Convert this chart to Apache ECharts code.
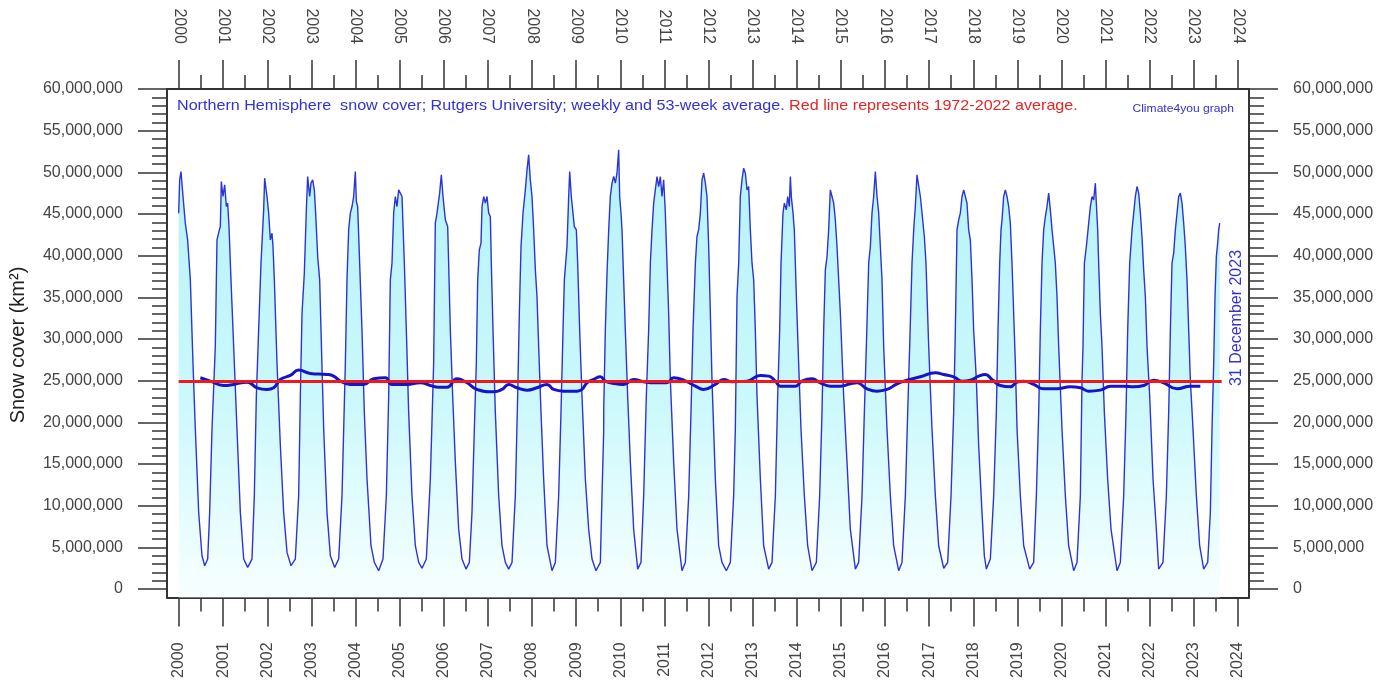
<!DOCTYPE html>
<html>
<head>
<meta charset="utf-8">
<script src="https://cdn.jsdelivr.net/npm/echarts@6/dist/echarts.min.js"></script>
<style>
html,body{margin:0;padding:0;background:#fff;}
#chart{width:1392px;height:681px;}
</style>
</head>
<body>
<div id="chart"></div>
<script>
// Year tick labels (top and bottom axes)
const yearTicks = [2000,2001,2002,2003,2004,2005,2006,2007,2008,2009,2010,2011,2012,2013,2014,2015,2016,2017,2018,2019,2020,2021,2022,2023,2024];
const halfYearTicks = [2000.5,2001.5,2002.5,2003.5,2004.5,2005.5,2006.5,2007.5,2008.5,2009.5,2010.5,2011.5,2012.5,2013.5,2014.5,2015.5,2016.5,2017.5,2018.5,2019.5,2020.5,2021.5,2022.5,2023.5];
// Y ticks in million km²
const yMajorTicks = [0,5,10,15,20,25,30,35,40,45,50,55,60];
const yMinorTicks = [1,2,3,4,6,7,8,9,11,12,13,14,16,17,18,19,21,22,23,24,26,27,28,29,31,32,33,34,36,37,38,39,41,42,43,44,46,47,48,49,51,52,53,54,56,57,58,59];

// Weekly Northern Hemisphere snow cover [decimal year, million km²]
const weeklySnow = [
[1999.992,45.1],[2000.015,49.1],[2000.045,50.1],[2000.091,47.1],[2000.143,43.9],[2000.196,41.9],[2000.257,37.1],[2000.317,27.1],[2000.370,19.2],[2000.446,9.2],[2000.521,4.0],[2000.582,2.8],
[2000.650,3.6],[2000.695,9.2],[2000.748,19.2],[2000.823,29.1],[2000.861,41.9],[2000.914,43.1],[2000.937,43.5],[2000.959,48.9],[2000.997,47.1],[2001.035,48.5],[2001.073,45.9],[2001.103,46.3],[2001.133,43.5],[2001.178,37.1],[2001.239,29.1],[2001.314,19.2],[2001.390,9.2],[2001.466,3.6],[2001.556,2.6],
[2001.654,3.6],[2001.707,11.2],[2001.753,23.2],[2001.805,31.1],[2001.858,39.1],[2001.919,45.5],[2001.941,49.3],[2001.972,49.1],[2001.994,47.1],[2002.032,45.1],[2002.070,41.9],[2002.108,42.7],[2002.130,41.1],[2002.161,37.1],[2002.221,27.1],[2002.297,17.2],[2002.372,9.2],[2002.448,4.4],[2002.538,2.8],
[2002.636,3.6],[2002.712,11.2],[2002.750,23.2],[2002.788,33.1],[2002.840,37.9],[2002.886,45.5],[2002.916,49.5],[2002.961,47.1],[2002.992,48.7],[2003.029,49.1],[2003.067,47.9],[2003.097,45.1],[2003.143,39.9],[2003.188,37.1],[2003.218,31.1],[2003.279,19.2],[2003.354,9.2],[2003.430,4.0],[2003.528,2.6],
[2003.619,3.6],[2003.694,11.2],[2003.770,27.1],[2003.807,37.1],[2003.845,43.1],[2003.883,45.1],[2003.921,45.9],[2003.958,47.1],[2003.996,50.1],[2004.019,46.5],[2004.049,45.9],[2004.094,39.1],[2004.147,31.1],[2004.200,21.2],[2004.261,13.2],[2004.351,5.2],[2004.427,3.2],[2004.525,2.2],
[2004.623,3.6],[2004.699,11.2],[2004.752,23.2],[2004.789,37.1],[2004.827,39.1],[2004.865,45.1],[2004.903,47.1],[2004.941,45.9],[2004.978,47.9],[2005.016,47.9],[2005.054,47.1],[2005.107,39.1],[2005.152,31.1],[2005.205,21.2],[2005.280,11.2],[2005.356,5.2],[2005.432,3.2],[2005.507,2.5],
[2005.605,3.6],[2005.696,13.2],[2005.771,27.1],[2005.809,43.9],[2005.847,45.1],[2005.907,47.5],[2005.945,49.7],[2005.983,47.1],[2006.036,44.3],[2006.089,43.5],[2006.111,39.1],[2006.149,31.1],[2006.202,23.2],[2006.263,15.2],[2006.338,7.2],[2006.414,3.6],[2006.504,2.4],
[2006.580,3.2],[2006.640,9.2],[2006.693,19.2],[2006.738,27.1],[2006.769,37.1],[2006.806,40.7],[2006.844,41.5],[2006.867,45.9],[2006.905,47.1],[2006.942,46.3],[2006.980,47.1],[2007.018,45.1],[2007.056,44.7],[2007.078,39.1],[2007.116,31.1],[2007.169,21.2],[2007.245,11.2],[2007.320,5.2],[2007.396,3.2],[2007.471,2.4],
[2007.547,3.2],[2007.622,11.2],[2007.675,23.2],[2007.713,33.1],[2007.751,41.1],[2007.796,45.1],[2007.849,47.9],[2007.887,50.3],[2007.924,52.1],[2007.962,49.1],[2008.000,47.1],[2008.038,43.1],[2008.076,38.3],[2008.113,35.1],[2008.151,29.1],[2008.204,21.2],[2008.264,13.2],[2008.340,5.2],[2008.453,2.2],
[2008.529,3.2],[2008.604,11.2],[2008.657,21.2],[2008.703,31.1],[2008.733,37.1],[2008.793,41.1],[2008.831,47.1],[2008.854,50.1],[2008.891,47.1],[2008.929,45.1],[2008.959,43.5],[2009.005,43.1],[2009.035,39.1],[2009.080,31.1],[2009.133,23.2],[2009.209,13.2],[2009.284,7.2],[2009.360,3.6],[2009.450,2.2],
[2009.549,3.2],[2009.586,11.2],[2009.624,18.8],[2009.627,22.0],[2009.662,31.1],[2009.700,37.9],[2009.738,43.1],[2009.775,47.1],[2009.813,48.7],[2009.851,49.5],[2009.889,48.7],[2009.926,49.9],[2009.964,52.7],[2009.987,47.1],[2010.017,45.1],[2010.040,43.1],[2010.077,37.1],[2010.115,31.1],[2010.168,23.2],[2010.229,15.2],[2010.304,7.2],[2010.395,2.4],
[2010.470,3.2],[2010.531,11.2],[2010.591,23.2],[2010.644,31.1],[2010.682,39.1],[2010.720,43.1],[2010.757,46.3],[2010.795,47.9],[2010.833,49.5],[2010.871,48.3],[2010.908,49.5],[2010.946,47.1],[2010.984,49.1],[2011.022,45.1],[2011.059,39.1],[2011.097,33.1],[2011.135,25.1],[2011.211,15.2],[2011.286,7.2],[2011.399,2.2],
[2011.475,3.2],[2011.551,11.2],[2011.603,21.2],[2011.649,31.1],[2011.702,39.1],[2011.739,42.3],[2011.777,43.1],[2011.815,45.1],[2011.853,49.1],[2011.890,49.9],[2011.928,48.7],[2011.966,47.1],[2012.004,41.1],[2012.042,33.1],[2012.079,25.1],[2012.155,13.2],[2012.230,5.2],[2012.306,3.2],[2012.404,2.2],
[2012.495,3.2],[2012.570,11.2],[2012.608,19.2],[2012.646,35.1],[2012.684,39.1],[2012.721,47.1],[2012.759,49.1],[2012.797,50.5],[2012.835,49.9],[2012.873,47.9],[2012.910,48.3],[2012.948,43.1],[2012.986,39.1],[2013.024,37.1],[2013.061,31.1],[2013.099,23.2],[2013.175,13.2],[2013.250,5.2],[2013.364,2.4],
[2013.439,3.2],[2013.515,11.2],[2013.568,23.2],[2013.613,31.1],[2013.643,39.1],[2013.688,45.1],[2013.719,46.3],[2013.764,45.5],[2013.794,47.1],[2013.832,45.9],[2013.855,49.5],[2013.877,47.1],[2013.915,45.1],[2013.945,43.1],[2013.991,35.1],[2014.043,27.1],[2014.096,19.2],[2014.172,11.2],[2014.247,5.2],[2014.346,2.2],
[2014.444,3.2],[2014.519,11.2],[2014.572,21.2],[2014.610,31.1],[2014.648,38.3],[2014.686,39.9],[2014.723,43.1],[2014.761,47.9],[2014.799,47.1],[2014.837,46.3],[2014.874,44.3],[2014.912,41.1],[2014.950,37.1],[2014.988,33.1],[2015.063,23.2],[2015.139,15.2],[2015.214,7.2],[2015.328,2.4],
[2015.403,3.2],[2015.479,11.2],[2015.532,21.2],[2015.577,29.1],[2015.630,39.1],[2015.668,41.1],[2015.705,45.1],[2015.743,47.1],[2015.781,50.1],[2015.819,47.1],[2015.857,45.1],[2015.894,41.1],[2015.932,37.1],[2015.970,29.1],[2016.045,19.2],[2016.121,11.2],[2016.196,5.2],[2016.310,2.2],
[2016.385,3.2],[2016.461,11.2],[2016.514,21.2],[2016.559,29.1],[2016.612,39.1],[2016.650,43.1],[2016.687,45.9],[2016.725,49.7],[2016.763,49.7],[2016.801,47.1],[2016.839,45.1],[2016.891,42.3],[2016.929,39.1],[2016.990,29.1],[2017.065,19.2],[2017.141,11.2],[2017.216,5.2],[2017.330,2.5],
[2017.420,3.2],[2017.496,11.2],[2017.556,21.2],[2017.594,31.1],[2017.632,43.1],[2017.670,44.3],[2017.707,45.1],[2017.745,47.1],[2017.783,47.9],[2017.821,47.1],[2017.858,46.3],[2017.896,43.1],[2017.934,41.9],[2017.972,37.1],[2018.009,31.1],[2018.070,25.1],[2018.123,17.2],[2018.198,9.2],[2018.251,4.0],[2018.297,2.4],
[2018.387,3.6],[2018.463,11.2],[2018.523,21.2],[2018.561,31.1],[2018.599,39.1],[2018.629,43.1],[2018.652,44.3],[2018.689,47.1],[2018.727,47.9],[2018.765,47.1],[2018.803,45.9],[2018.840,43.9],[2018.878,39.1],[2018.916,33.1],[2018.954,27.1],[2018.992,19.2],[2019.067,11.2],[2019.143,5.2],[2019.279,2.4],
[2019.369,3.2],[2019.430,11.2],[2019.483,21.2],[2019.520,31.1],[2019.558,39.1],[2019.596,43.1],[2019.634,44.7],[2019.671,45.9],[2019.709,47.5],[2019.747,45.5],[2019.785,43.1],[2019.823,41.1],[2019.860,39.1],[2019.898,35.1],[2019.936,29.1],[2020.011,19.2],[2020.087,11.2],[2020.162,5.2],[2020.276,2.2],
[2020.351,3.2],[2020.427,11.2],[2020.465,25.1],[2020.487,29.1],[2020.518,39.1],[2020.563,41.1],[2020.616,43.9],[2020.654,45.9],[2020.691,47.1],[2020.729,46.7],[2020.767,48.7],[2020.789,46.3],[2020.820,43.1],[2020.842,39.1],[2020.880,33.1],[2020.918,29.1],[2020.971,21.2],[2021.046,13.2],[2021.122,7.2],[2021.258,2.2],
[2021.333,3.2],[2021.409,11.2],[2021.462,21.2],[2021.500,31.1],[2021.545,39.1],[2021.598,43.1],[2021.636,45.1],[2021.673,47.1],[2021.711,48.3],[2021.749,47.5],[2021.787,45.1],[2021.824,42.3],[2021.862,38.3],[2021.900,35.1],[2021.938,29.1],[2021.998,23.2],[2022.074,13.2],[2022.149,7.2],[2022.202,2.4],
[2022.300,3.2],[2022.376,11.2],[2022.429,21.2],[2022.467,31.1],[2022.504,39.1],[2022.542,40.3],[2022.580,43.1],[2022.618,45.1],[2022.655,47.1],[2022.693,47.5],[2022.731,46.3],[2022.769,43.9],[2022.806,41.1],[2022.844,37.1],[2022.882,31.1],[2022.920,25.1],[2022.980,19.2],[2023.056,11.2],[2023.131,5.2],[2023.222,2.4],
[2023.313,3.2],[2023.373,9.2],[2023.411,19.2],[2023.449,27.1],[2023.479,35.1],[2023.509,39.9],[2023.539,41.5],[2023.562,43.1],[2023.585,43.9]
];

// 53-week running average [decimal year, million km²]
const avg53 = [
[2000.483,25.35],[2000.710,24.95],[2001.012,24.43],[2001.239,24.55],[2001.541,24.83],[2001.768,24.15],[2001.994,23.95],[2002.145,24.15],[2002.297,25.15],[2002.523,25.63],[2002.712,26.27],[2002.976,25.87],[2003.354,25.75],[2003.505,25.55],[2003.656,24.95],[2003.883,24.55],[2004.185,24.55],[2004.412,25.23],[2004.676,25.35],[2004.827,24.55],[2005.167,24.55],[2005.469,24.75],[2005.696,24.43],[2005.885,24.23],
[2006.074,24.23],[2006.300,25.23],[2006.527,24.75],[2006.753,23.95],[2007.131,23.67],[2007.320,23.95],[2007.471,24.55],[2007.660,24.15],[2007.887,23.87],[2008.113,24.15],[2008.340,24.55],[2008.491,23.95],[2008.718,23.75],[2009.020,23.75],[2009.133,23.95],[2009.246,24.75],[2009.398,25.15],[2009.549,25.47],[2009.662,24.95],[2009.851,24.67],[2010.077,24.55],[2010.304,25.15],[2010.531,24.87],[2010.833,24.75],[2011.059,24.75],[2011.211,25.35],[2011.437,25.07],[2011.702,24.35],[2011.890,23.95],
[2012.155,24.55],[2012.344,25.15],[2012.533,24.87],[2012.873,24.95],[2013.175,25.63],[2013.364,25.55],[2013.515,24.95],[2013.628,24.35],[2013.968,24.35],[2014.119,24.95],[2014.346,25.23],[2014.535,24.75],[2014.761,24.35],[2014.988,24.35],[2015.214,24.63],[2015.365,24.75],[2015.592,24.03],[2015.819,23.75],[2016.045,23.95],[2016.272,24.63],[2016.499,25.07],[2016.801,25.47],[2017.141,25.95],[2017.330,25.75],[2017.556,25.47],[2017.745,24.95],[2017.934,25.07],[2018.123,25.55],
[2018.274,25.75],[2018.425,25.15],[2018.614,24.43],[2018.840,24.27],[2018.992,24.83],[2019.143,24.95],[2019.369,24.55],[2019.596,24.03],[2019.898,24.03],[2020.200,24.27],[2020.427,24.15],[2020.616,23.75],[2020.880,23.87],[2021.107,24.35],[2021.409,24.35],[2021.636,24.27],[2021.862,24.43],[2022.089,25.07],[2022.315,24.75],[2022.618,24.03],[2022.920,24.35],[2023.146,24.35]
];

// 1972-2022 average (red line)
const refAvgValue = 24.9;
const refAvgSpan = [1999.993, 2023.63];

const FONT = 'Liberation Sans, Arial, sans-serif';
const AXIS_COLOR = '#333';
const LABEL_COLOR = '#444';
const X_MIN = 1999.728, X_MAX = 2024.249;
const Y_MIN = -1, Y_MAX = 60;

function fmtY(v){ return Math.round(v*1e6).toLocaleString('en-US'); }

function xAxisMajor(pos){
  return {
    type:'value', position:pos, min:X_MIN, max:X_MAX,
    axisLine:{show:true, onZero:false, lineStyle:{color:AXIS_COLOR, width:2}},
    axisTick:{show:true, customValues:yearTicks, length:29, lineStyle:{color:AXIS_COLOR, width:1.5}},
    axisLabel:{show:true, customValues:yearTicks, rotate:90, margin:45, fontSize:16, fontFamily:FONT, color:LABEL_COLOR,
      formatter:v=>String(Math.round(v))},
    splitLine:{show:false}
  };
}
function xAxisMinor(pos){
  return {
    type:'value', position:pos, min:X_MIN, max:X_MAX,
    axisLine:{show:false, onZero:false},
    axisTick:{show:true, customValues:halfYearTicks, length:14, lineStyle:{color:AXIS_COLOR, width:1.5}},
    axisLabel:{show:false}, splitLine:{show:false}
  };
}
function yAxisMajor(pos){
  return {
    type:'value', position:pos, min:Y_MIN, max:Y_MAX,
    axisLine:{show:true, onZero:false, lineStyle:{color:AXIS_COLOR, width:2}},
    axisTick:{show:true, customValues:yMajorTicks, length:29, lineStyle:{color:AXIS_COLOR, width:1.5}},
    axisLabel:{show:true, customValues:yMajorTicks, margin:44, fontSize:16, fontFamily:FONT, color:LABEL_COLOR, formatter:fmtY},
    splitLine:{show:false}
  };
}
function yAxisMinor(pos){
  return {
    type:'value', position:pos, min:Y_MIN, max:Y_MAX,
    axisLine:{show:false, onZero:false},
    axisTick:{show:true, customValues:yMinorTicks, length:15, lineStyle:{color:AXIS_COLOR, width:1.5}},
    axisLabel:{show:false}, splitLine:{show:false}
  };
}

const chart = echarts.init(document.getElementById('chart'), null, {renderer:'canvas'});
chart.setOption({
  animation:false,
  backgroundColor:'#fff',
  grid:{left:167, right:143, top:89, bottom:83, containLabel:false},
  xAxis:[xAxisMajor('bottom'), xAxisMajor('top'), xAxisMinor('bottom'), xAxisMinor('top')],
  yAxis:[yAxisMajor('left'), yAxisMajor('right'), yAxisMinor('left'), yAxisMinor('right')],
  series:[
    {
      type:'line', name:'weekly', data:weeklySnow, xAxisIndex:0, yAxisIndex:0,
      showSymbol:false, symbol:'none', smooth:false,
      lineStyle:{color:'#2b34d6', width:1.4},
      areaStyle:{origin:'start', color:new echarts.graphic.LinearGradient(0,0,0,1,[
        {offset:0, color:'#94edf7'},{offset:0.55, color:'#b4f5fa'},{offset:1, color:'#f4ffff'}])},
      z:2
    },
    {
      type:'line', name:'avg', data:avg53, xAxisIndex:0, yAxisIndex:0,
      showSymbol:false, symbol:'none', smooth:true,
      lineStyle:{color:'#1414c8', width:3}, z:3
    },
    {
      type:'line', name:'ref', data:[[refAvgSpan[0],refAvgValue],[refAvgSpan[1],refAvgValue]], xAxisIndex:0, yAxisIndex:0,
      showSymbol:false, symbol:'none',
      lineStyle:{color:'#f01818', width:3}, z:4
    }
  ],
  graphic:[
    {type:'text', x:177, y:106, scaleX:1.075, style:{
      text:'{b|Northern Hemisphere  snow cover; Rutgers University; weekly and 53-week average.} {r|Red line represents 1972-2022 average.}',
      verticalAlign:'middle', font:'15px '+FONT,
      rich:{b:{fill:'#3232d6', fontSize:15, fontFamily:FONT}, r:{fill:'#e82323', fontSize:15, fontFamily:FONT}}
    }, z:10},
    {type:'text', x:1234, y:109, scaleX:1.1, style:{text:'Climate4you graph', fill:'#3232d6', font:'11px '+FONT, align:'right', verticalAlign:'middle'}, z:10},
    {type:'text', x:1237, y:318, rotation:Math.PI/2, style:{text:'31 December 2023', fill:'#3232d6', font:'16px '+FONT, align:'center', verticalAlign:'middle'}, z:10},
    {type:'text', x:18, y:345, rotation:Math.PI/2, style:{text:'Snow cover (km²)', fill:'#222', font:'20px '+FONT, align:'center', verticalAlign:'middle'}, z:10}
  ]
});
</script>
</body>
</html>
